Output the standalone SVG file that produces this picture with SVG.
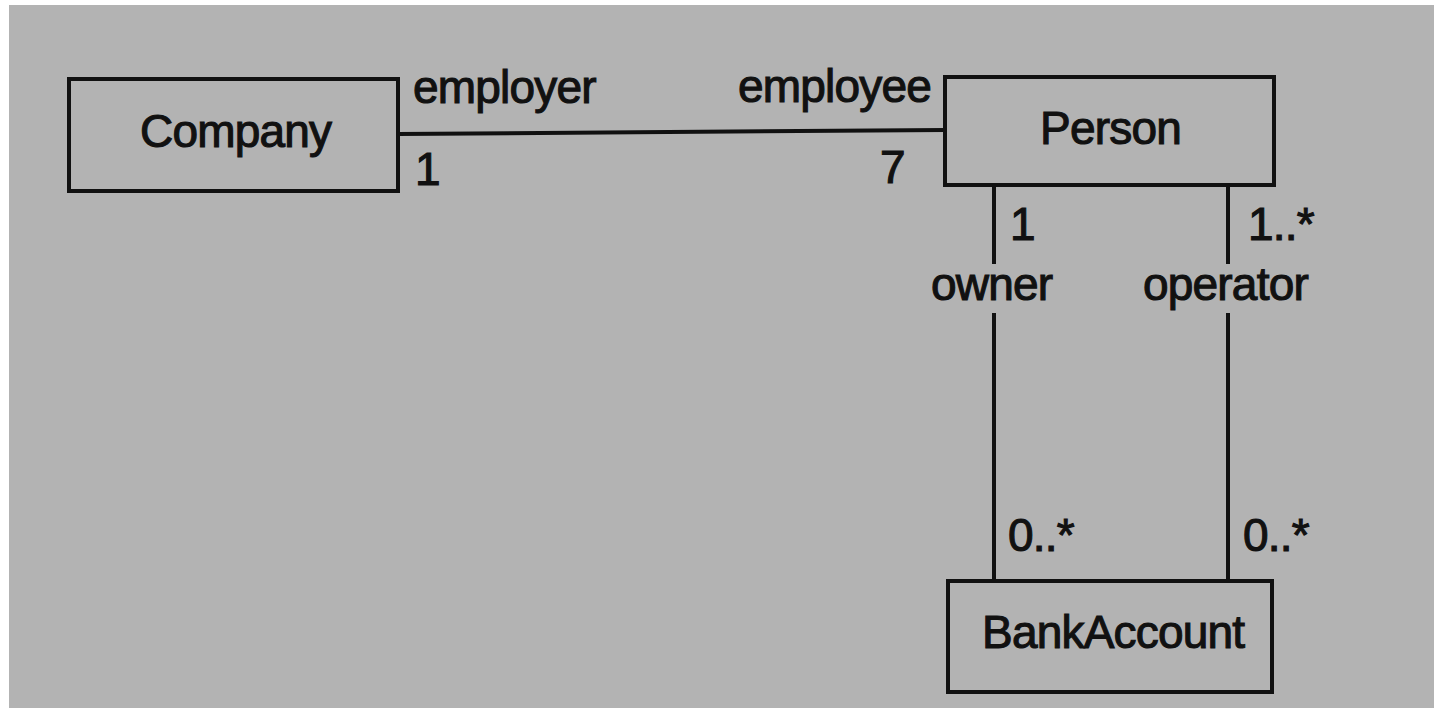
<svg xmlns="http://www.w3.org/2000/svg" width="1434" height="708" viewBox="0 0 1434 708">
<style>
.box{fill:none;stroke:#111;stroke-width:4}
.ln{fill:none;stroke:#111;stroke-width:4}
text{font-family:"Liberation Sans",Arial,sans-serif;font-size:46px;letter-spacing:-0.8px;fill:#111;stroke:#111;stroke-width:1.1}
</style>
<rect x="0" y="0" width="1434" height="708" fill="#ffffff"/>
<rect x="9" y="5" width="1425" height="703" fill="#b3b3b3"/>
<g id="connectors">
<line class="ln" x1="398" y1="134" x2="945" y2="130"/>
<line class="ln" x1="994" y1="185" x2="994" y2="264"/>
<line class="ln" x1="994" y1="313" x2="994" y2="581"/>
<line class="ln" x1="1228" y1="185" x2="1228" y2="264"/>
<line class="ln" x1="1228" y1="313" x2="1228" y2="581"/>
<text x="413" y="103">employer</text>
<text x="415" y="185">1</text>
<text x="738" y="102">employee</text>
<text x="880" y="183">7</text>
<text x="1010" y="240">1</text>
<text x="1248" y="240">1..*</text>
<text x="931" y="300">owner</text>
<text x="1143" y="300">operator</text>
<text x="1008" y="551">0..*</text>
<text x="1243" y="551">0..*</text>
</g>
<g id="company">
<rect class="box" x="69" y="79" width="329" height="112"/>
<text x="140" y="147">Company</text>
</g>
<g id="person">
<rect class="box" x="945" y="77" width="329" height="108"/>
<text x="1040" y="144">Person</text>
</g>
<g id="bankaccount">
<rect class="box" x="948" y="581" width="324" height="111"/>
<text x="982" y="648">BankAccount</text>
</g>
</svg>
